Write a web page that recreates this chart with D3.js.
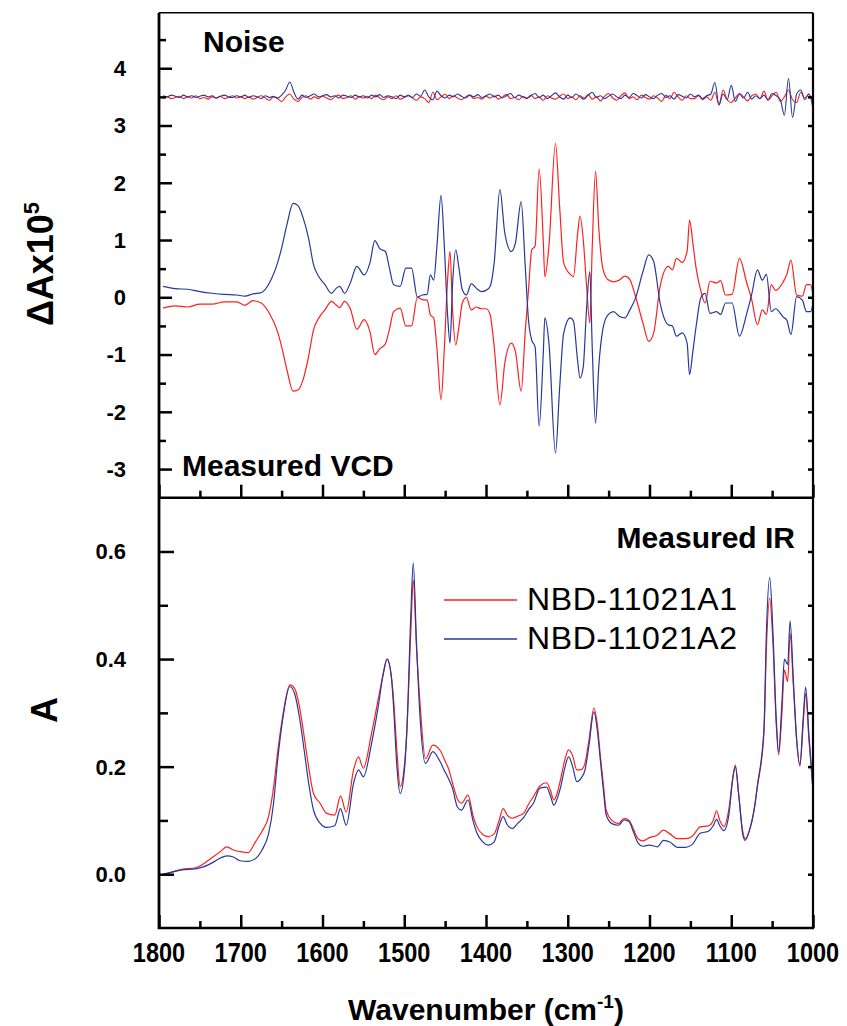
<!DOCTYPE html>
<html>
<head>
<meta charset="utf-8">
<script src="https://cdn.jsdelivr.net/npm/d3@7"></script>
<style>
  body { margin: 0; background: #fff; }
  svg { display: block; font-family: Arial, "Liberation Sans", sans-serif; }
</style>
</head>
<body>
<div id="chart"></div>
<script>
// ---- data ----
const noiseWn = d3.range(1795, 999, -5);
const noiseA1 = [
  3.48, 3.50, 3.47, 3.49, 3.51, 3.47, 3.50, 3.48, 3.52, 3.47,
  3.49, 3.46, 3.50, 3.48, 3.51, 3.47, 3.49, 3.52, 3.48, 3.50,
  3.47, 3.50, 3.46, 3.49, 3.52, 3.48, 3.44, 3.50, 3.47, 3.42,
  3.50, 3.55, 3.46, 3.42, 3.49, 3.52, 3.46, 3.50, 3.47, 3.51,
  3.48, 3.45, 3.50, 3.53, 3.47, 3.49, 3.52, 3.46, 3.50, 3.48,
  3.51, 3.47, 3.53, 3.48, 3.45, 3.50, 3.47, 3.52, 3.46, 3.49,
  3.53, 3.48, 3.44, 3.50, 3.47, 3.40, 3.58, 3.45, 3.50, 3.55,
  3.47, 3.52, 3.48, 3.45, 3.50, 3.53, 3.47, 3.49, 3.46, 3.51,
  3.48, 3.52, 3.46, 3.50, 3.54, 3.47, 3.49, 3.45, 3.51, 3.48,
  3.53, 3.47, 3.50, 3.44, 3.52, 3.48, 3.46, 3.51, 3.55, 3.47,
  3.50, 3.45, 3.52, 3.48, 3.54, 3.46, 3.50, 3.43, 3.51, 3.56,
  3.48, 3.44, 3.52, 3.57, 3.47, 3.50, 3.45, 3.53, 3.49, 3.46,
  3.52, 3.48, 3.42, 3.53, 3.47, 3.58, 3.50, 3.44, 3.52, 3.47,
  3.47, 3.52, 3.45, 3.50, 3.44, 3.58, 3.36, 3.62, 3.45, 3.40,
  3.48, 3.56, 3.50, 3.43, 3.52, 3.55, 3.47, 3.60, 3.44, 3.52,
  3.58, 3.42, 3.50, 3.62, 3.45, 3.40, 3.58, 3.48, 3.55, 3.38
];
const noiseA2 = [
  3.52, 3.50, 3.53, 3.51, 3.49, 3.53, 3.50, 3.52, 3.49, 3.51,
  3.53, 3.50, 3.52, 3.48, 3.51, 3.53, 3.50, 3.49, 3.52, 3.50,
  3.53, 3.49, 3.52, 3.50, 3.47, 3.52, 3.49, 3.51, 3.48, 3.53,
  3.62, 3.76, 3.58, 3.46, 3.53, 3.49, 3.52, 3.55, 3.50, 3.52,
  3.54, 3.50, 3.52, 3.48, 3.53, 3.51, 3.49, 3.53, 3.50, 3.52,
  3.48, 3.53, 3.50, 3.54, 3.49, 3.52, 3.50, 3.47, 3.53, 3.50,
  3.52, 3.49, 3.55, 3.51, 3.62, 3.50, 3.45, 3.60, 3.52, 3.48,
  3.53, 3.50, 3.55, 3.51, 3.48, 3.53, 3.50, 3.54, 3.49, 3.52,
  3.55, 3.50, 3.53, 3.48, 3.52, 3.56, 3.49, 3.53, 3.50, 3.47,
  3.52, 3.56, 3.49, 3.53, 3.47, 3.52, 3.57, 3.50, 3.46, 3.53,
  3.49, 3.55, 3.50, 3.46, 3.53, 3.58, 3.49, 3.52, 3.47, 3.51,
  3.55, 3.50, 3.47, 3.53, 3.49, 3.56, 3.52, 3.48, 3.54, 3.50,
  3.47, 3.53, 3.56, 3.49, 3.52, 3.46, 3.54, 3.51, 3.48, 3.55,
  3.50, 3.53, 3.47, 3.52, 3.55, 3.75, 3.36, 3.55, 3.45, 3.70,
  3.42, 3.55, 3.48, 3.58, 3.46, 3.52, 3.47, 3.53, 3.45, 3.56,
  3.52, 3.45, 3.18, 3.82, 3.14, 3.55, 3.62, 3.45, 3.55, 3.30
];

const vcdWn = [
  1795, 1780, 1765, 1750, 1735, 1720, 1705, 1695, 1685, 1675,
  1665, 1655, 1650, 1643, 1636, 1630, 1624, 1617, 1611, 1604,
  1597, 1589, 1583, 1579, 1573, 1566, 1558, 1549, 1542, 1536,
  1530, 1523, 1518, 1513, 1505, 1498, 1491, 1484, 1478, 1472,
  1468, 1464, 1460, 1455, 1451, 1447, 1444, 1441, 1437, 1433,
  1429, 1424, 1418, 1412, 1406, 1400, 1395, 1390, 1383, 1377,
  1369, 1364, 1357, 1352, 1348, 1344, 1340, 1335, 1330, 1328,
  1323, 1315, 1310, 1305, 1297, 1293, 1288, 1285, 1281, 1277,
  1273, 1270, 1266, 1262, 1257, 1251, 1244, 1237, 1230, 1224,
  1217, 1208, 1201, 1195, 1187, 1177, 1172, 1167, 1160, 1154,
  1151, 1147, 1143, 1137, 1132, 1126, 1118, 1113, 1107, 1099,
  1090, 1081, 1075, 1068, 1062, 1057, 1051, 1046, 1036, 1032,
  1027, 1020, 1013, 1008, 1003, 1000
];
const vcdA1 = [
  -0.19, -0.15, -0.17, -0.12, -0.12, -0.08, -0.08, -0.14, -0.06, -0.10,
  -0.28, -0.60, -0.86, -1.30, -1.64, -1.62, -1.45, -1.03, -0.57, -0.35,
  -0.22, -0.07, -0.14, -0.18, -0.07, -0.20, -0.56, -0.39, -0.60, -1.00,
  -0.90, -0.81, -0.55, -0.25, -0.19, -0.50, -0.50, 0.00, -0.04, -0.05,
  -0.31, -0.36, -0.90, -1.79, -0.90, 0.30, 0.80, -0.20, -0.83, -0.50,
  -0.10, 0.00, -0.22, -0.17, -0.20, -0.20, -0.30, -0.86, -1.88, -1.15,
  -0.80, -0.95, -1.64, -0.60, 0.13, 0.83, 0.89, 2.24, 1.00, 0.36,
  0.90, 2.69, 1.60, 0.60, 0.40, 0.36, 1.10, 1.42, 1.00, 0.20,
  -0.45, 0.90, 2.20, 1.20, 0.50, 0.31, 0.27, 0.30, 0.37, 0.31,
  0.01, -0.45, -0.77, -0.63, 0.19, 0.54, 0.48, 0.68, 0.61, 0.80,
  1.35, 0.95, 0.51, 0.10, -0.10, 0.28, 0.25, 0.29, 0.04, 0.05,
  0.68, 0.25, -0.04, -0.48, -0.22, -0.30, 0.22, 0.12, 0.28, 0.40,
  0.65, 0.04, 0.02, 0.22, 0.22, 0.04
];
const vcdA2 = [
  0.19, 0.15, 0.14, 0.10, 0.07, 0.05, 0.04, 0.02, 0.06, 0.08,
  0.25, 0.60, 0.86, 1.30, 1.64, 1.60, 1.40, 1.03, 0.57, 0.35,
  0.22, 0.07, 0.16, 0.19, 0.07, 0.25, 0.54, 0.39, 0.60, 0.99,
  0.85, 0.80, 0.50, 0.22, 0.19, 0.51, 0.51, 0.00, 0.04, 0.05,
  0.39, 0.30, 0.90, 1.78, 0.90, -0.30, -0.80, 0.20, 0.83, 0.50,
  0.13, 0.04, 0.24, 0.16, 0.10, 0.12, 0.19, 0.60, 1.88, 1.12,
  0.80, 0.95, 1.67, 0.54, -0.40, -0.75, -0.86, -2.25, -1.00, -0.36,
  -0.80, -2.72, -1.60, -0.63, -0.36, -0.42, -1.10, -1.41, -1.21, -0.20,
  0.45, -0.90, -2.20, -1.20, -0.55, -0.31, -0.25, -0.33, -0.36, -0.22,
  -0.01, 0.45, 0.74, 0.63, -0.10, -0.48, -0.50, -0.68, -0.62, -0.80,
  -1.35, -0.95, -0.51, 0.00, 0.07, -0.28, -0.25, -0.30, -0.10, -0.10,
  -0.68, -0.28, 0.05, 0.48, 0.30, 0.40, -0.25, -0.20, -0.35, -0.40,
  -0.65, 0.01, -0.05, -0.25, -0.25, -0.10
];

const irWn = [
  1795, 1789, 1772, 1755, 1745, 1734, 1725, 1717, 1709, 1701,
  1691, 1682, 1674, 1666, 1660, 1655, 1648, 1640, 1634, 1628,
  1623, 1617, 1611, 1603, 1595, 1585, 1578, 1571, 1562, 1556,
  1550, 1540, 1532, 1526, 1521, 1516, 1513, 1509, 1505, 1500,
  1497, 1492, 1489, 1485, 1481, 1474, 1465, 1456, 1450, 1446,
  1441, 1435, 1430, 1422, 1416, 1411, 1404, 1397, 1390, 1384,
  1379, 1374, 1368, 1361, 1354, 1348, 1342, 1334, 1326, 1321,
  1317, 1313, 1309, 1304, 1299, 1294, 1289, 1283, 1279, 1274,
  1268, 1264, 1260, 1256, 1253, 1246, 1238, 1231, 1225, 1220,
  1214, 1208, 1200, 1190, 1183, 1175, 1166, 1156, 1148, 1138,
  1128, 1122, 1118, 1114, 1109, 1103, 1098, 1095, 1091, 1086,
  1083, 1078, 1072, 1068, 1060, 1057, 1053, 1049, 1045, 1042,
  1038, 1035, 1031, 1028, 1024, 1020, 1016, 1012, 1009, 1005,
  1000
];
const irA1 = [
  0.000, 0.002, 0.009, 0.012, 0.020, 0.032, 0.042, 0.051, 0.045, 0.042,
  0.040, 0.060, 0.080, 0.107, 0.160, 0.225, 0.300, 0.352, 0.345, 0.310,
  0.262, 0.200, 0.150, 0.132, 0.113, 0.110, 0.145, 0.116, 0.194, 0.218,
  0.197, 0.262, 0.324, 0.370, 0.400, 0.370, 0.324, 0.230, 0.163, 0.200,
  0.262, 0.450, 0.547, 0.420, 0.324, 0.215, 0.240, 0.230, 0.210, 0.197,
  0.170, 0.140, 0.132, 0.147, 0.110, 0.088, 0.074, 0.070, 0.075, 0.100,
  0.122, 0.110, 0.104, 0.108, 0.113, 0.130, 0.144, 0.164, 0.170, 0.155,
  0.138, 0.150, 0.175, 0.210, 0.231, 0.220, 0.194, 0.195, 0.206, 0.250,
  0.309, 0.280, 0.218, 0.160, 0.119, 0.100, 0.094, 0.104, 0.100, 0.085,
  0.066, 0.062, 0.068, 0.073, 0.082, 0.075, 0.066, 0.066, 0.070, 0.088,
  0.090, 0.100, 0.118, 0.100, 0.089, 0.120, 0.180, 0.203, 0.150, 0.080,
  0.066, 0.080, 0.120, 0.163, 0.262, 0.420, 0.513, 0.430, 0.280, 0.222,
  0.300, 0.380, 0.358, 0.448, 0.350, 0.250, 0.201, 0.280, 0.336, 0.250,
  0.156
];
const irA2 = [
  0.000, 0.002, 0.008, 0.010, 0.014, 0.022, 0.030, 0.034, 0.032, 0.025,
  0.024, 0.029, 0.045, 0.075, 0.130, 0.210, 0.295, 0.349, 0.335, 0.290,
  0.237, 0.170, 0.119, 0.095, 0.087, 0.090, 0.122, 0.091, 0.169, 0.194,
  0.181, 0.243, 0.310, 0.370, 0.400, 0.370, 0.310, 0.200, 0.150, 0.190,
  0.260, 0.480, 0.579, 0.430, 0.300, 0.206, 0.228, 0.209, 0.190, 0.178,
  0.160, 0.125, 0.119, 0.138, 0.100, 0.076, 0.060, 0.054, 0.060, 0.090,
  0.107, 0.092, 0.085, 0.095, 0.105, 0.120, 0.132, 0.160, 0.162, 0.145,
  0.128, 0.140, 0.160, 0.195, 0.218, 0.200, 0.172, 0.180, 0.193, 0.240,
  0.302, 0.270, 0.210, 0.150, 0.110, 0.094, 0.091, 0.101, 0.098, 0.080,
  0.058, 0.052, 0.054, 0.051, 0.063, 0.060, 0.050, 0.050, 0.055, 0.076,
  0.080, 0.090, 0.102, 0.090, 0.081, 0.110, 0.180, 0.200, 0.150, 0.075,
  0.063, 0.080, 0.120, 0.165, 0.270, 0.450, 0.552, 0.450, 0.290, 0.227,
  0.320, 0.400, 0.390, 0.471, 0.360, 0.250, 0.203, 0.290, 0.348, 0.260,
  0.156
];

const seriesNames = ['NBD-11021A1', 'NBD-11021A2'];
const seriesColors = ['#ff1f1f', '#26399a'];
const xMajor = [1800, 1700, 1600, 1500, 1400, 1300, 1200, 1100, 1000];
const xMinor = [1750, 1650, 1550, 1450, 1350, 1250, 1150, 1050];
const topMajor = [-3, -2, -1, 0, 1, 2, 3, 4];
const topMinor = [-2.5, -1.5, -0.5, 0.5, 1.5, 2.5, 3.5, 4.5];
const botMajor = [0.0, 0.2, 0.4, 0.6];
const botMinor = [0.1, 0.3, 0.5];

// ---- layout ----
const width = 847;
const height = 1026;
const plot = { left: 159, right: 813, top: 12.7, mid: 497.7, bottom: 928 };

const svg = d3.select('#chart').append('svg')
  .attr('width', width).attr('height', height);

const x = d3.scaleLinear().domain([1800, 1000]).range([plot.left, plot.right]);
const yTop = d3.scaleLinear().domain([-3.5, 4.97]).range([plot.mid, plot.top]);
const yBot = d3.scaleLinear().domain([-0.1, 0.7]).range([plot.bottom, plot.mid]);

function drawLine(wn, vals, y, color, width) {
  const line = d3.line()
    .x(d => x(d[0]))
    .y(d => y(d[1]))
    .curve(d3.curveMonotoneX);
  svg.append('path')
    .datum(wn.map((w, i) => [w, vals[i]]))
    .attr('fill', 'none')
    .attr('stroke', color)
    .attr('stroke-width', width)
    .attr('stroke-linejoin', 'round')
    .attr('d', line);
}

// spectra
drawLine(noiseWn, noiseA1, yTop, seriesColors[0], 1.1);
drawLine(noiseWn, noiseA2, yTop, seriesColors[1], 1.1);
drawLine(vcdWn, vcdA1, yTop, seriesColors[0], 1.2);
drawLine(vcdWn, vcdA2, yTop, seriesColors[1], 1.2);
drawLine(irWn, irA1, yBot, seriesColors[0], 1.2);
drawLine(irWn, irA2, yBot, seriesColors[1], 1.2);

// ---- axes (ticks pointing inward) ----
function tickAxis(axis, transform) {
  const g = svg.append('g').attr('transform', transform).call(axis);
  g.select('.domain').remove();
  g.selectAll('text').remove();
  g.selectAll('line').attr('stroke', '#000').attr('stroke-width', 2.5);
  return g;
}

// left ticks
tickAxis(d3.axisLeft(yTop).tickValues(topMajor).tickSize(-13), `translate(${plot.left},0)`);
tickAxis(d3.axisLeft(yTop).tickValues(topMinor).tickSize(-7), `translate(${plot.left},0)`);
tickAxis(d3.axisLeft(yBot).tickValues(botMajor).tickSize(-15), `translate(${plot.left},0)`);
tickAxis(d3.axisLeft(yBot).tickValues(botMinor).tickSize(-9), `translate(${plot.left},0)`);
// right ticks
tickAxis(d3.axisRight(yTop).tickValues(topMajor.concat(topMinor)).tickSize(-5), `translate(${plot.right},0)`);
tickAxis(d3.axisRight(yBot).tickValues(botMajor.concat(botMinor)).tickSize(-5), `translate(${plot.right},0)`);
// bottom ticks, both panels
[plot.mid, plot.bottom].forEach(yPos => {
  tickAxis(d3.axisBottom(x).tickValues(xMajor).tickSize(-13), `translate(0,${yPos})`);
  tickAxis(d3.axisBottom(x).tickValues(xMinor).tickSize(-7), `translate(0,${yPos})`);
});

// frame
svg.append('line').attr('x1', plot.left).attr('x2', plot.right)
  .attr('y1', plot.top).attr('y2', plot.top)
  .attr('stroke', '#000').attr('stroke-width', 1.5);
[plot.mid, plot.bottom].forEach(yPos => {
  svg.append('line').attr('x1', plot.left - 1).attr('x2', plot.right + 1)
    .attr('y1', yPos).attr('y2', yPos)
    .attr('stroke', '#000').attr('stroke-width', 2.5);
});
svg.append('line').attr('x1', plot.left).attr('x2', plot.left)
  .attr('y1', plot.top).attr('y2', plot.bottom + 1)
  .attr('stroke', '#000').attr('stroke-width', 2.8);
svg.append('line').attr('x1', plot.right).attr('x2', plot.right)
  .attr('y1', plot.top).attr('y2', plot.bottom + 1)
  .attr('stroke', '#000').attr('stroke-width', 2.2);

// ---- tick labels ----
svg.append('g').selectAll('text')
  .data(topMajor)
  .join('text')
  .attr('x', 126)
  .attr('y', d => yTop(d))
  .attr('dy', '0.36em')
  .attr('text-anchor', 'end')
  .style('font-size', '22px')
  .style('font-weight', 'bold')
  .text(d => d);

svg.append('g').selectAll('text')
  .data(botMajor)
  .join('text')
  .attr('x', 126)
  .attr('y', d => yBot(d))
  .attr('dy', '0.36em')
  .attr('text-anchor', 'end')
  .style('font-size', '22px')
  .style('font-weight', 'bold')
  .text(d => d3.format('.1f')(d));

svg.append('g').selectAll('text')
  .data(xMajor)
  .join('text')
  .attr('transform', d => `translate(${x(d)},961.5) scale(0.84,1)`)
  .attr('text-anchor', 'middle')
  .style('font-size', '28px')
  .style('font-weight', 'bold')
  .text(d => d);

// ---- axis titles ----
const xTitle = svg.append('text')
  .attr('x', 486)
  .attr('y', 1020)
  .attr('text-anchor', 'middle')
  .style('font-size', '30px')
  .style('font-weight', 'bold');
xTitle.append('tspan').text('Wavenumber (cm');
xTitle.append('tspan').attr('dy', -12).style('font-size', '19px').text('-1');
xTitle.append('tspan').attr('dy', 12).text(')');

const yTitleTop = svg.append('text')
  .attr('transform', 'translate(53,264) rotate(-90)')
  .attr('text-anchor', 'middle')
  .style('font-size', '36px')
  .style('font-weight', 'bold');
yTitleTop.append('tspan').text('\u0394Ax10');
yTitleTop.append('tspan').attr('dy', -14).style('font-size', '22px').text('5');

svg.append('text')
  .attr('transform', 'translate(57,710) rotate(-90)')
  .attr('text-anchor', 'middle')
  .style('font-size', '36px')
  .style('font-weight', 'bold')
  .text('A');

// ---- panel labels ----
svg.append('text').attr('x', 203).attr('y', 52)
  .style('font-size', '30px').style('font-weight', 'bold').text('Noise');
svg.append('text').attr('x', 182).attr('y', 476)
  .style('font-size', '30px').style('font-weight', 'bold').text('Measured VCD');
svg.append('text').attr('x', 795).attr('y', 548).attr('text-anchor', 'end')
  .style('font-size', '30px').style('font-weight', 'bold').text('Measured IR');

// ---- legend ----
const legend = svg.append('g').attr('class', 'legend');
const legendItem = legend.selectAll('g')
  .data(seriesNames)
  .join('g')
  .attr('transform', (_, i) => `translate(0, ${600 + i * 39})`);
legendItem.append('line')
  .attr('x1', 444).attr('x2', 517)
  .attr('stroke', (_, i) => seriesColors[i])
  .attr('stroke-width', 1.3);
legendItem.append('text')
  .attr('x', 527)
  .attr('y', 10)
  .style('font-size', '32px')
  .style('letter-spacing', '0.6px')
  .text(d => d);
</script>
</body>
</html>
